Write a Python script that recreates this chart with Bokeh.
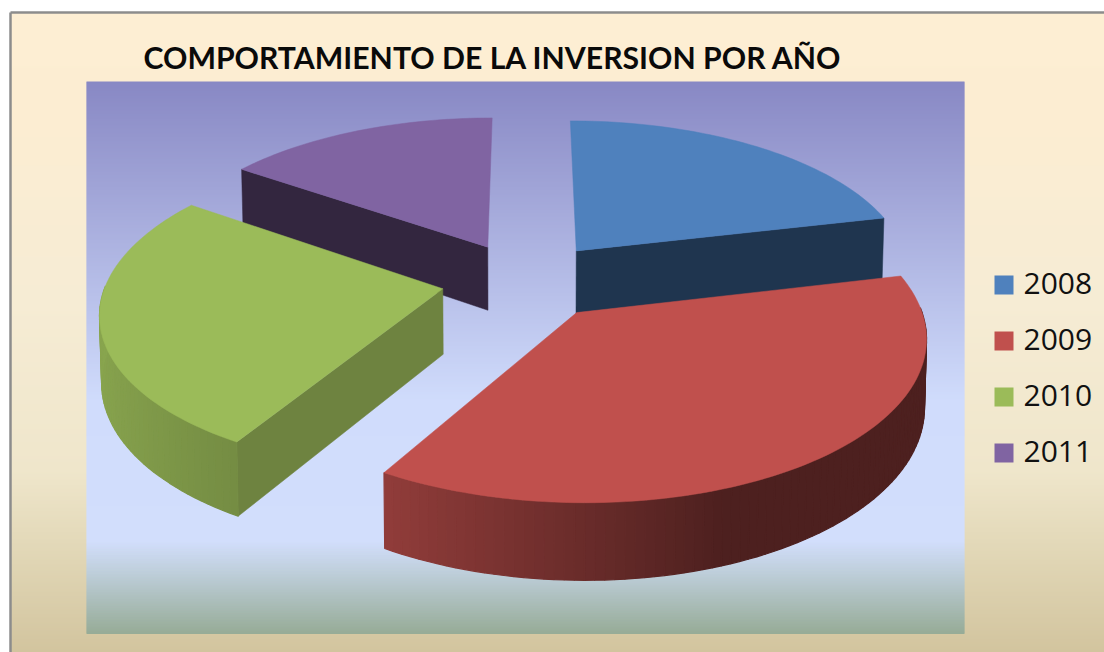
import numpy as np
from bokeh.plotting import figure
from bokeh.models import Range1d, ColumnDataSource
from bokeh.core.properties import value
from bokeh.embed import file_html
from bokeh.resources import INLINE

TITLE = "COMPORTAMIENTO DE LA INVERSION POR AÑO"
YEARS = ["2008", "2009", "2010", "2011"]
SHARES = [21.3, 37.2, 26.2, 15.3]
COLORS = ["#4f81bd", "#c0504d", "#9bbb59", "#8064a2"]
FACES = ["#1f354f", "#4a1e1e", "#6e8340", "#33263f"]
DRAW_ORDER = [3, 0, 2, 1]

# page geometry (page pixels; the ranges below map them directly)
PAGE_W, PAGE_H = 1104, 652
OUT_L, OUT_T = 10, 12
PLOT_L, PLOT_R, PLOT_T, PLOT_B = 86, 964, 81, 633
# 3D pie projection
CX, CY = 525.0, 280.0
A, B = 336.0, 155.0
PERSP = 0.135
EXPLODE = 0.25
DEPTH = 65.0
TAPER = 0.995


def hexrgb(c):
    return np.array([int(c[i:i + 2], 16) for i in (1, 3, 5)], dtype=float)


def rgbhex(c):
    return "#%02x%02x%02x" % tuple(int(round(v)) for v in c)


def gradient(p, l, r, t, b, stops):
    ys = np.arange(t, b)
    pos = [s[0] for s in stops]
    cols = np.array([hexrgb(s[1]) for s in stops])
    col = [rgbhex([np.interp(y, pos, cols[:, i]) for i in range(3)]) for y in ys]
    src = ColumnDataSource(dict(top=ys, bottom=ys + 1.5, left=[l] * len(ys), right=[r] * len(ys), c=col))
    p.quad(top="top", bottom="bottom", left="left", right="right", fill_color="c", line_color=None, source=src)


def project(u, v, down=False):
    w = 1 + PERSP * v
    x = A * u / w
    y = -B * v / w
    if down:
        x = x * TAPER
        y = y + DEPTH / w
    return CX + x, CY + y


p = figure(width=PAGE_W, height=PAGE_H, output_backend="svg", toolbar_location=None,
           x_range=Range1d(0, PAGE_W), y_range=Range1d(PAGE_H, 0),
           x_axis_type=None, y_axis_type=None, min_border=0,
           background_fill_color="white", border_fill_color="white", outline_line_color=None)
p.grid.visible = False

gradient(p, OUT_L, PAGE_W, OUT_T, PAGE_H,
         [(12, "#fdeed3"), (120, "#fcedd2"), (300, "#f6ecd4"), (470, "#efe6cb"), (540, "#e3d9b9"), (652, "#d2c49e")])
p.segment(x0=[OUT_L, OUT_L], y0=[OUT_T, OUT_T], x1=[OUT_L, PAGE_W], y1=[PAGE_H, OUT_T],
          line_color="#8c8c8c", line_width=2.5)
gradient(p, PLOT_L, PLOT_R, PLOT_T, PLOT_B,
         [(81, "#8888c4"), (400, "#d0dcfc"), (540, "#d2defc"), (570, "#bfcfdc"), (633, "#96ab96")])

# slices
fracs = np.array(SHARES) / sum(SHARES)
ends = np.pi / 2 - np.cumsum(fracs) * 2 * np.pi
starts = ends + fracs * 2 * np.pi
SHADE_U = [-1.0, -0.47, 0.35, 1.0]
SHADE_V = [0.88, 0.74, 0.40, 0.40]

for i in DRAW_ORDER:
    a0, a1 = starts[i], ends[i]
    mid = (a0 + a1) / 2
    ox, oy = EXPLODE * np.cos(mid), EXPLODE * np.sin(mid)
    th = np.linspace(a0, a1, max(8, int((a0 - a1) * 40)))
    au, av = ox + np.cos(th), oy + np.sin(th)
    # radial faces that look towards the viewer
    for e, normal in ((a0, a0 + np.pi / 2), (a1, a1 - np.pi / 2)):
        if np.sin(normal) > -0.05:
            continue
        fu = np.array([ox, ox + np.cos(e)])
        fv = np.array([oy, oy + np.sin(e)])
        tx, ty = project(fu, fv)
        bx, by = project(fu, fv, True)
        p.patch(np.r_[tx, bx[::-1]], np.r_[ty, by[::-1]], fill_color=FACES[i], line_color=FACES[i], line_width=0.5)
    # curved wall, front half only
    tx, ty = project(au, av)
    bx, by = project(au, av, True)
    base = hexrgb(COLORS[i])
    xs, ys, cs = [], [], []
    for k in range(len(th) - 1):
        t_mid = (th[k] + th[k + 1]) / 2
        if np.sin(t_mid) > 0.02:
            continue
        xs.append([tx[k], tx[k + 1], bx[k + 1], bx[k]])
        ys.append([ty[k], ty[k + 1], by[k + 1], by[k]])
        cs.append(rgbhex(base * np.interp(np.cos(t_mid), SHADE_U, SHADE_V)))
    if xs:
        p.patches(xs, ys, fill_color=cs, line_color=cs, line_width=1.2)
    # top
    ax, ay = project(np.array([ox]), np.array([oy]))
    p.patch(np.r_[ax, tx], np.r_[ay, ty], fill_color=COLORS[i], line_color=COLORS[i], line_width=0.5)

# title
p.text(x=[143], y=[56], text=[TITLE], text_font=value("Lato"), text_font_style="bold",
       text_font_size="30.2px", text_color="#0a0a0a", text_baseline="middle", text_align="left")

# legend
LEG_Y = np.array([284.5, 340.5, 396.5, 452.5])
p.quad(left=[994] * 4, right=[1013] * 4, top=LEG_Y - 9.5, bottom=LEG_Y + 9.5, fill_color=COLORS, line_color=None)
p.text(x=[1023] * 4, y=LEG_Y - 2, text=YEARS, text_font=value("Open Sans"), text_font_size="30px",
       text_color="#111111", text_baseline="middle", text_align="left")

open("out.html", "w").write(file_html(p, INLINE))
